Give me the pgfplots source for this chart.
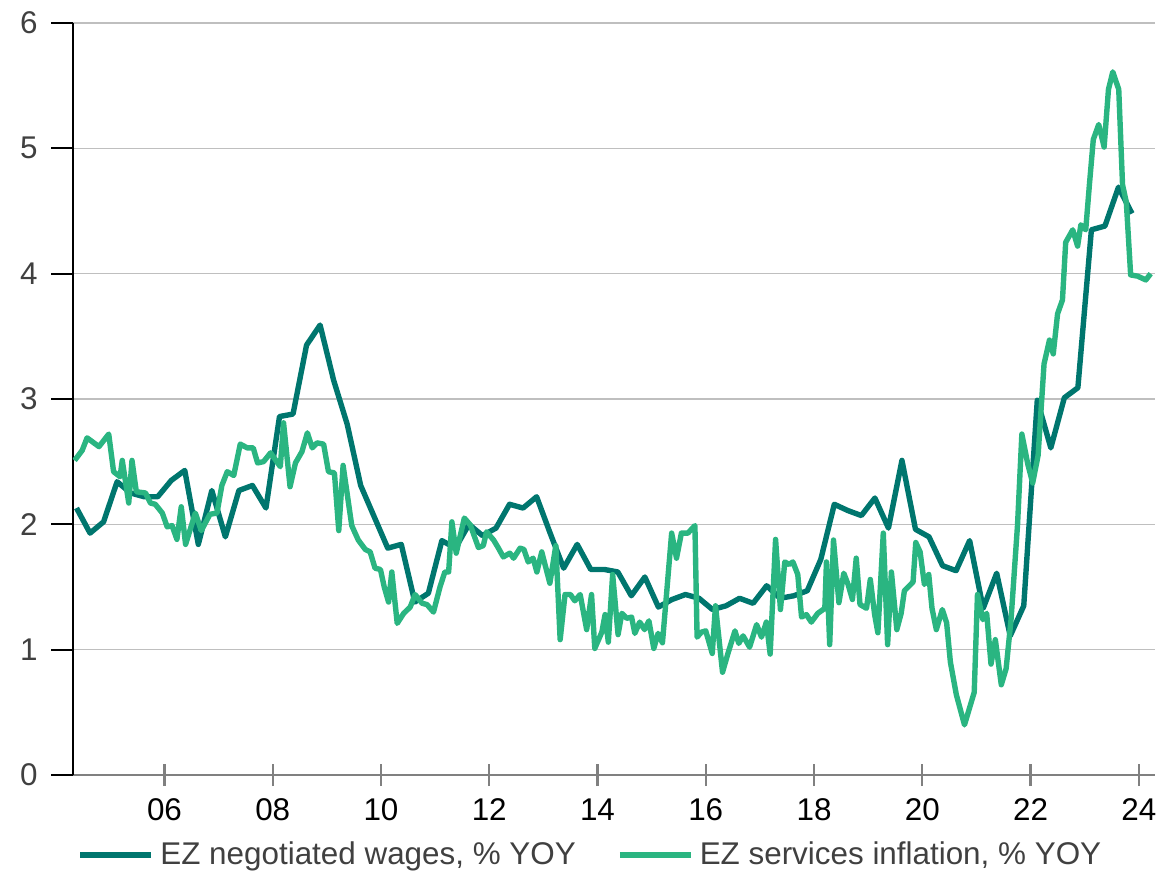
\documentclass[border=0pt]{standalone}
\usepackage{pgfplots}
\pgfplotsset{compat=1.18}
\usepackage{fontspec}
\setmainfont{Liberation Sans}
\definecolor{wagec}{HTML}{00766E}
\definecolor{servc}{HTML}{2AB581}
\definecolor{gridc}{HTML}{BFBFBF}
\definecolor{labc}{HTML}{404040}
\begin{document}
\begin{tikzpicture}
\useasboundingbox (-36.5pt,-48.5pt) rectangle (546pt,387.5pt);
\begin{axis}[
  at={(0,0)}, anchor=south west,
  scale only axis, width=541pt, height=376pt,
  xmin=2004.31, xmax=2024.30, ymin=0, ymax=6,
  axis x line=bottom, axis y line=left,
  x axis line style={-, color=gray, line width=1.1pt},
  y axis line style={-, color=black, line width=0.9pt},
  xtick={2006,2008,...,2024},
  xticklabels={06,08,10,12,14,16,18,20,22,24},
  ytick={0,1,...,6},
  ymajorgrids, grid style={color=gridc, line width=0.8pt},
  x tick style={color=gray, line width=1.1pt},
  y tick style={color=black, line width=0.9pt},
  xtick align=center, ytick align=outside,
  major tick length=11pt,
  /pgf/number format/assume math mode=true,
  tick label style={font=\fontsize{15.7}{18}\selectfont},
  xticklabel style={inner sep=0pt, anchor=north, yshift=-6pt, color=black},
  yticklabel style={inner sep=0pt, anchor=east, xshift=-6.5pt, color=labc},
  legend columns=2,
  legend style={at={(0.0037,-0.1064)}, anchor=west, draw=none, fill=none,
    inner sep=0pt, font=\fontsize{15.7}{18}\selectfont, text=labc,
    /tikz/every even column/.append style={column sep=17.5pt},
    nodes={inner xsep=3pt}},
  legend image code/.code={\draw[#1, line width=3pt] (0pt,0pt) -- (35.5pt,0pt);},
  every axis plot/.append style={line width=2.7pt, line join=round},
]
\addplot[color=wagec, mark=none] table {
2004.375 2.13
2004.625 1.93
2004.875 2.02
2005.125 2.34
2005.375 2.25
2005.625 2.22
2005.875 2.22
2006.125 2.35
2006.375 2.43
2006.625 1.84
2006.875 2.27
2007.125 1.90
2007.375 2.27
2007.625 2.31
2007.875 2.13
2008.125 2.86
2008.375 2.88
2008.625 3.43
2008.875 3.59
2009.125 3.15
2009.375 2.80
2009.625 2.31
2009.875 2.06
2010.125 1.81
2010.375 1.84
2010.625 1.38
2010.875 1.45
2011.125 1.87
2011.375 1.81
2011.625 2.00
2011.875 1.91
2012.125 1.97
2012.375 2.16
2012.625 2.13
2012.875 2.22
2013.125 1.93
2013.375 1.65
2013.625 1.84
2013.875 1.64
2014.125 1.64
2014.375 1.62
2014.625 1.43
2014.875 1.58
2015.125 1.34
2015.375 1.40
2015.625 1.44
2015.875 1.41
2016.125 1.32
2016.375 1.35
2016.625 1.41
2016.875 1.37
2017.125 1.51
2017.375 1.41
2017.625 1.43
2017.875 1.47
2018.125 1.72
2018.375 2.16
2018.625 2.11
2018.875 2.07
2019.125 2.21
2019.375 1.97
2019.625 2.51
2019.875 1.96
2020.125 1.90
2020.375 1.67
2020.625 1.63
2020.875 1.87
2021.125 1.33
2021.375 1.61
2021.625 1.11
2021.875 1.35
2022.125 2.99
2022.375 2.61
2022.625 3.01
2022.875 3.09
2023.125 4.35
2023.375 4.38
2023.625 4.69
2023.875 4.48
};
\addlegendentry{EZ negotiated wages, \% YOY}
\addplot[color=servc, mark=none] table {
2004.34 2.51
2004.48 2.59
2004.57 2.69
2004.79 2.62
2004.97 2.72
2005.06 2.42
2005.18 2.38
2005.22 2.51
2005.34 2.17
2005.40 2.51
2005.48 2.26
2005.65 2.25
2005.74 2.17
2005.83 2.16
2005.96 2.09
2006.05 1.98
2006.14 1.99
2006.23 1.88
2006.31 2.14
2006.39 1.84
2006.57 2.09
2006.68 1.95
2006.84 2.08
2006.97 2.09
2007.06 2.31
2007.16 2.42
2007.28 2.39
2007.40 2.64
2007.53 2.61
2007.64 2.61
2007.72 2.49
2007.83 2.50
2007.96 2.57
2008.14 2.46
2008.20 2.81
2008.32 2.30
2008.42 2.49
2008.54 2.58
2008.64 2.73
2008.73 2.61
2008.82 2.65
2008.94 2.64
2009.03 2.42
2009.14 2.41
2009.22 1.95
2009.30 2.47
2009.40 2.17
2009.46 1.99
2009.58 1.875
2009.71 1.80
2009.80 1.78
2009.89 1.65
2009.99 1.64
2010.06 1.50
2010.14 1.38
2010.20 1.62
2010.30 1.21
2010.42 1.29
2010.54 1.34
2010.63 1.44
2010.76 1.37
2010.85 1.36
2010.97 1.30
2011.09 1.50
2011.18 1.62
2011.25 1.62
2011.31 2.02
2011.39 1.77
2011.54 2.05
2011.65 1.995
2011.80 1.815
2011.89 1.83
2011.95 1.94
2012.08 1.875
2012.17 1.81
2012.26 1.74
2012.38 1.77
2012.45 1.73
2012.57 1.81
2012.64 1.80
2012.72 1.70
2012.81 1.73
2012.88 1.62
2012.97 1.78
2013.12 1.53
2013.23 1.83
2013.31 1.08
2013.40 1.44
2013.50 1.44
2013.58 1.39
2013.68 1.44
2013.80 1.16
2013.89 1.44
2013.95 1.01
2014.08 1.14
2014.14 1.28
2014.20 1.06
2014.28 1.60
2014.38 1.12
2014.45 1.29
2014.54 1.25
2014.63 1.26
2014.69 1.13
2014.78 1.22
2014.87 1.16
2014.95 1.23
2015.04 1.01
2015.12 1.13
2015.20 1.055
2015.37 1.93
2015.46 1.73
2015.55 1.93
2015.67 1.93
2015.80 1.99
2015.84 1.10
2015.92 1.14
2016.00 1.15
2016.12 0.97
2016.18 1.35
2016.31 0.82
2016.41 0.97
2016.54 1.15
2016.61 1.05
2016.69 1.11
2016.81 1.02
2016.94 1.20
2017.03 1.10
2017.12 1.22
2017.19 0.965
2017.29 1.88
2017.38 1.32
2017.46 1.70
2017.54 1.68
2017.61 1.70
2017.70 1.60
2017.77 1.26
2017.86 1.28
2017.95 1.22
2018.07 1.29
2018.20 1.33
2018.23 1.70
2018.29 1.04
2018.36 1.875
2018.46 1.375
2018.55 1.61
2018.63 1.52
2018.71 1.40
2018.78 1.73
2018.85 1.36
2018.97 1.33
2019.04 1.56
2019.12 1.28
2019.18 1.135
2019.28 1.93
2019.36 1.04
2019.43 1.62
2019.53 1.16
2019.61 1.29
2019.67 1.47
2019.83 1.54
2019.88 1.855
2019.96 1.78
2020.04 1.52
2020.12 1.60
2020.18 1.33
2020.26 1.16
2020.37 1.32
2020.45 1.215
2020.52 0.90
2020.63 0.64
2020.78 0.40
2020.96 0.66
2021.02 1.44
2021.12 1.24
2021.19 1.29
2021.27 0.885
2021.35 1.08
2021.46 0.72
2021.55 0.85
2021.64 1.24
2021.76 1.995
2021.84 2.72
2021.95 2.48
2022.04 2.33
2022.14 2.55
2022.25 3.28
2022.35 3.47
2022.42 3.36
2022.50 3.68
2022.59 3.79
2022.65 4.25
2022.78 4.35
2022.87 4.22
2022.93 4.39
2023.02 4.35
2023.09 4.72
2023.16 5.07
2023.26 5.19
2023.36 5.01
2023.44 5.47
2023.52 5.61
2023.63 5.47
2023.70 4.71
2023.77 4.57
2023.85 3.99
2023.98 3.98
2024.13 3.95
2024.22 4.00
};
\addlegendentry{EZ services inflation, \% YOY}
\end{axis}
\end{tikzpicture}
\end{document}
